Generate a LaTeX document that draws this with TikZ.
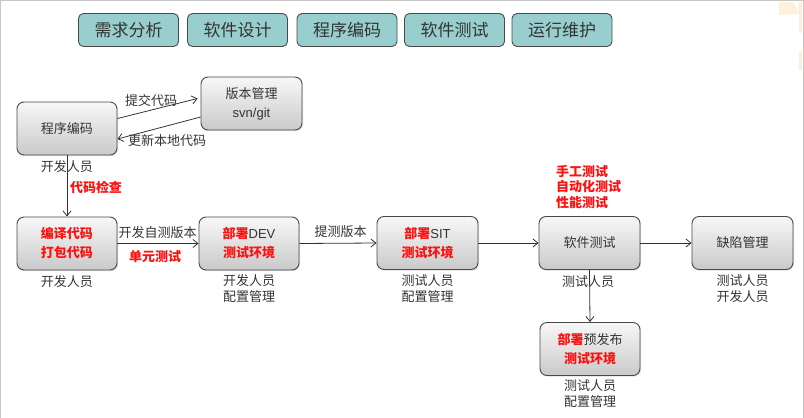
\documentclass[tikz,border=0pt]{standalone}
\usepackage{fontspec}
\setmainfont{Noto Sans CJK SC}
\newfontfamily\lat{Liberation Sans}
\usetikzlibrary{arrows.meta,shadows}
\definecolor{phasefill}{HTML}{98CFCE}
\definecolor{boxline}{HTML}{4A4A4A}
\definecolor{txt}{HTML}{333333}
\definecolor{redtxt}{HTML}{FF1010}
\tikzset{
  proc/.style={rounded corners=7pt, draw=boxline, line width=0.9pt,
    top color=gray!6, bottom color=gray!42, minimum width=100pt, minimum height=53pt,
    align=center, text=txt, font=\fontsize{13}{19}\selectfont,
    drop shadow={shadow xshift=1pt, shadow yshift=-1.2pt, opacity=0.25}},
  phase/.style={rounded corners=5pt, draw=boxline, line width=0.9pt, fill=phasefill,
    minimum width=100pt, minimum height=33pt, text=txt,
    font=\fontsize{17}{20}\selectfont, inner sep=0pt},
  lbl/.style={text=txt, font=\fontsize{13}{16}\selectfont, align=center, inner sep=0pt},
  redlbl/.style={text=redtxt, font=\fontsize{13}{15.5}\selectfont\bfseries, align=left, inner sep=0pt},
  conn/.style={draw=black!80, line width=0.8pt, -{Straight Barb[length=5pt,width=8pt]}},
}
\newcommand{\rb}[1]{\textcolor{redtxt}{\bfseries #1}}
\begin{document}
\begin{tikzpicture}[x=1pt,y=-1pt]
\useasboundingbox (0,0) rectangle (804,418);
% frame
\draw[gray!45, line width=1.2pt] (0.6,418) -- (0.6,0.6) -- (803.2,0.6) -- (803.2,418);
\fill[yellow!15!orange!12] (779,2) -- (793,2) -- (800,14) -- (779,15) -- cycle;
\fill[orange!15] (799,2) rectangle (801.5,33);
\fill[orange!15] (799,52) rectangle (801.5,70);
% phases
\node[phase] (p1) at (128.5,30) {需求分析};
\node[phase] (p2) at (237.5,30) {软件设计};
\node[phase] (p3) at (347,30) {程序编码};
\node[phase] (p4) at (454.5,30) {软件测试};
\node[phase] (p5) at (562,30) {运行维护};
% process boxes
\node[proc] (code) at (67,128.5) {程序编码};
\node[proc, minimum width=101pt] (vcs) at (251.5,103.5) {版本管理\\{\lat svn/git}};
\node[proc] (compile) at (67,243.5) {\rb{编译代码}\\\rb{打包代码}};
\node[proc] (dev) at (249,243.5) {\rb{部署}{\lat DEV}\\\rb{测试环境}};
\node[proc, minimum width=101pt] (sit) at (427.5,243) {\rb{部署}{\lat SIT}\\\rb{测试环境}};
\node[proc, minimum width=101pt] (test) at (589.5,243) {软件测试};
\node[proc, minimum width=101pt] (defect) at (742.5,243) {缺陷管理};
\node[proc] (pre) at (590,349) {\rb{部署}预发布\\\rb{测试环境}};
% connectors
\draw[conn] ([yshift=10pt]code.east) -- ([yshift=5pt,xshift=-3pt]vcs.west)
  node[lbl, pos=0.42, above=3pt] (l1) {提交代码};
\draw[conn] ([yshift=-13.5pt]vcs.west) -- ([yshift=-10.5pt]code.east);
\node[lbl] (l2) at (167,141) {更新本地代码};
\draw[conn] (code.south) -- (compile.north);
\node[lbl] (l3) at (67,167) {开发人员};
\node[redlbl] (l4) at (96,187) {代码检查};
\draw[conn] (compile.east) -- (dev.west);
\node[lbl] (l5) at (157.5,233) {开发自测版本};
\node[redlbl] (l6) at (155,257) {单元测试};
\draw[conn] (dev.east) -- (sit.west);
\node[lbl] (l7) at (340.5,232) {提测版本};
\draw[conn] (sit.east) -- (test.west);
\draw[conn] (test.east) -- (defect.west);
\draw[conn] (test.south) -- (pre.north);
% role labels
\node[lbl] (r1) at (67,282) {开发人员};
\node[lbl, anchor=north] (r2) at (249,274) {开发人员\\配置管理};
\node[lbl, anchor=north] (r3) at (427.5,274) {测试人员\\配置管理};
\node[lbl] (r4) at (588,282) {测试人员};
\node[lbl, anchor=north] (r5) at (742.5,274) {测试人员\\开发人员};
\node[lbl, anchor=north] (r6) at (590,379.5) {测试人员\\配置管理};
\node[redlbl, anchor=north west] (t1) at (556,165) {手工测试\\自动化测试\\性能测试};
\end{tikzpicture}
\end{document}
